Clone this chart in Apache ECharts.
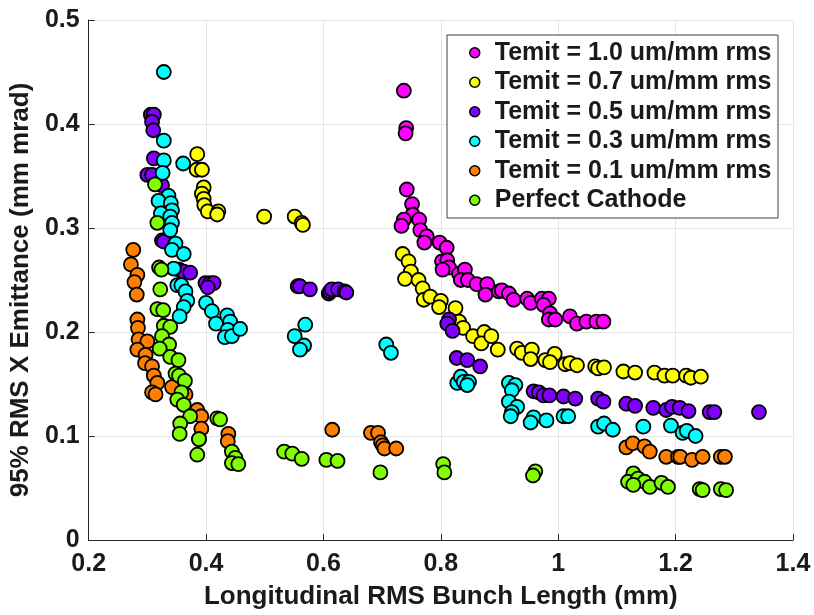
<!DOCTYPE html>
<html>
<head>
<meta charset="utf-8">
<script src="https://cdn.jsdelivr.net/npm/echarts@6/dist/echarts.min.js"></script>
<style>html,body{margin:0;padding:0;background:#fff;}#c{width:814px;height:615px;}</style>
</head>
<body>
<div id="c"></div>
<script>
var seriesNames = ['Temit = 1.0 um/mm rms','Temit = 0.7 um/mm rms','Temit = 0.5 um/mm rms','Temit = 0.3 um/mm rms','Temit = 0.1 um/mm rms','Perfect Cathode'];
var seriesColors = ['#ff00ff','#ffff00','#8000ff','#00ffff','#ff8000','#80ff00'];
var xTicks = [0.2,0.4,0.6,0.8,1.0,1.2,1.4];
var yTicks = [0,0.1,0.2,0.3,0.4,0.5];

var temit10 = [[0.737,0.432],[0.741,0.396],[0.740,0.391],[0.742,0.337],[0.751,0.323],[0.752,0.313],[0.737,0.308],[0.733,0.302],[0.763,0.308],[0.765,0.298],[0.776,0.292],[0.772,0.286],[0.798,0.286],[0.810,0.281],[0.802,0.268],[0.811,0.269],[0.814,0.262],[0.803,0.260],[0.831,0.256],[0.841,0.260],[0.834,0.250],[0.846,0.250],[0.861,0.246],[0.879,0.246],[0.876,0.236],[0.899,0.239],[0.904,0.240],[0.916,0.237],[0.924,0.231],[0.947,0.232],[0.953,0.228],[0.972,0.232],[0.984,0.232],[0.975,0.226],[0.986,0.218],[0.984,0.212],[0.995,0.212],[1.020,0.215],[1.032,0.208],[1.048,0.210],[1.065,0.210],[1.077,0.210]];

var temit07 = [[0.385,0.371],[0.384,0.356],[0.393,0.356],[0.396,0.339],[0.393,0.333],[0.396,0.328],[0.397,0.322],[0.403,0.316],[0.421,0.316],[0.419,0.313],[0.499,0.311],[0.551,0.311],[0.563,0.305],[0.565,0.303],[0.735,0.275],[0.745,0.268],[0.749,0.258],[0.739,0.251],[0.762,0.250],[0.769,0.242],[0.771,0.231],[0.782,0.234],[0.800,0.230],[0.797,0.224],[0.825,0.223],[0.831,0.210],[0.838,0.204],[0.855,0.196],[0.874,0.200],[0.869,0.189],[0.886,0.196],[0.897,0.183],[0.930,0.184],[0.938,0.180],[0.955,0.183],[0.953,0.174],[0.978,0.173],[0.994,0.179],[0.986,0.171],[1.012,0.169],[1.020,0.170],[1.032,0.168],[1.063,0.167],[1.068,0.165],[1.078,0.166],[1.111,0.162],[1.131,0.161],[1.164,0.161],[1.181,0.158],[1.195,0.158],[1.218,0.158],[1.226,0.156],[1.243,0.157]];

var temit05 = [[0.306,0.409],[0.311,0.409],[0.308,0.402],[0.310,0.394],[0.311,0.367],[0.300,0.351],[0.308,0.351],[0.325,0.341],[0.325,0.288],[0.328,0.287],[0.354,0.260],[0.362,0.258],[0.373,0.257],[0.399,0.247],[0.407,0.247],[0.413,0.247],[0.403,0.243],[0.556,0.244],[0.560,0.244],[0.577,0.241],[0.609,0.237],[0.611,0.239],[0.614,0.241],[0.625,0.241],[0.636,0.239],[0.639,0.238],[0.814,0.212],[0.811,0.208],[0.820,0.201],[0.827,0.175],[0.845,0.173],[0.867,0.167],[0.958,0.143],[0.967,0.142],[0.975,0.139],[0.985,0.139],[1.009,0.138],[1.029,0.136],[1.068,0.136],[1.077,0.133],[1.116,0.131],[1.131,0.129],[1.162,0.127],[1.184,0.125],[1.194,0.128],[1.207,0.127],[1.222,0.124],[1.258,0.123],[1.266,0.123],[1.342,0.123]];

var temit03 = [[0.328,0.450],[0.328,0.384],[0.328,0.365],[0.361,0.362],[0.326,0.353],[0.336,0.331],[0.319,0.326],[0.340,0.324],[0.342,0.317],[0.323,0.314],[0.339,0.311],[0.342,0.305],[0.339,0.298],[0.348,0.285],[0.342,0.279],[0.362,0.275],[0.345,0.261],[0.351,0.245],[0.358,0.245],[0.365,0.239],[0.368,0.230],[0.362,0.224],[0.355,0.215],[0.400,0.228],[0.410,0.220],[0.417,0.208],[0.436,0.216],[0.441,0.210],[0.437,0.202],[0.432,0.195],[0.444,0.196],[0.458,0.203],[0.569,0.207],[0.551,0.196],[0.567,0.187],[0.560,0.183],[0.707,0.188],[0.715,0.180],[0.828,0.151],[0.834,0.157],[0.839,0.152],[0.848,0.152],[0.845,0.149],[0.916,0.151],[0.927,0.149],[0.921,0.144],[0.916,0.133],[0.930,0.128],[0.921,0.123],[0.919,0.119],[0.958,0.118],[0.953,0.113],[0.980,0.115],[1.009,0.119],[1.017,0.119],[1.068,0.109],[1.078,0.112],[1.093,0.106],[1.145,0.109],[1.192,0.110],[1.212,0.103],[1.219,0.105],[1.234,0.100]];

var temit01 = [[0.276,0.279],[0.272,0.265],[0.283,0.255],[0.278,0.248],[0.282,0.236],[0.283,0.212],[0.284,0.204],[0.285,0.193],[0.300,0.191],[0.283,0.183],[0.297,0.178],[0.296,0.170],[0.308,0.167],[0.311,0.158],[0.317,0.151],[0.308,0.142],[0.314,0.140],[0.342,0.147],[0.365,0.140],[0.385,0.125],[0.392,0.119],[0.392,0.107],[0.388,0.097],[0.438,0.102],[0.437,0.095],[0.615,0.106],[0.681,0.103],[0.693,0.103],[0.698,0.094],[0.701,0.091],[0.704,0.088],[0.724,0.088],[1.116,0.089],[1.127,0.093],[1.147,0.090],[1.156,0.085],[1.184,0.080],[1.204,0.080],[1.208,0.080],[1.228,0.077],[1.246,0.080],[1.277,0.080],[1.284,0.080]];

var perfect = [[0.313,0.342],[0.317,0.305],[0.320,0.262],[0.324,0.260],[0.322,0.241],[0.317,0.222],[0.327,0.221],[0.328,0.206],[0.339,0.205],[0.325,0.196],[0.337,0.188],[0.321,0.184],[0.339,0.176],[0.353,0.173],[0.348,0.160],[0.354,0.158],[0.364,0.153],[0.358,0.142],[0.351,0.135],[0.362,0.130],[0.373,0.119],[0.356,0.112],[0.355,0.102],[0.388,0.097],[0.419,0.117],[0.424,0.116],[0.385,0.082],[0.444,0.085],[0.450,0.079],[0.444,0.074],[0.455,0.073],[0.533,0.085],[0.547,0.083],[0.563,0.078],[0.605,0.077],[0.624,0.076],[0.697,0.065],[0.804,0.073],[0.806,0.065],[0.961,0.066],[0.957,0.062],[1.128,0.064],[1.119,0.056],[1.136,0.059],[1.147,0.056],[1.156,0.051],[1.128,0.053],[1.176,0.055],[1.187,0.051],[1.241,0.049],[1.246,0.048],[1.277,0.049],[1.286,0.048]];

var allData = [temit10, temit07, temit05, temit03, temit01, perfect];
var FONT = '"Liberation Sans", Arial, Helvetica, sans-serif';
var TXT = '#1a1a1a';

var chart = echarts.init(document.getElementById('c'), null, {renderer: 'canvas'});
var series = allData.map(function (d, i) {
  return {
    name: seriesNames[i],
    type: 'scatter',
    data: d,
    symbol: 'circle',
    symbolSize: 14,
    itemStyle: {color: seriesColors[i], borderColor: '#000', borderWidth: 1.8, opacity: 1},
    emphasis: {disabled: true}
  };
});

chart.setOption({
  animation: false,
  backgroundColor: '#fff',
  grid: {left: 86, right: 21, top: 20, bottom: 75, containLabel: false},
  xAxis: {
    type: 'value', min: xTicks[0], max: xTicks[xTicks.length - 1], interval: 0.2,
    name: 'Longitudinal RMS Bunch Length (mm)', nameLocation: 'middle', nameGap: 44,
    nameTextStyle: {fontFamily: FONT, fontWeight: 'bold', fontSize: 26, color: TXT},
    axisLine: {show: true, onZero: false, lineStyle: {color: '#262626', width: 1}},
    axisTick: {show: true, inside: true, length: 6, lineStyle: {color: '#262626'}},
    axisLabel: {fontFamily: FONT, fontWeight: 'bold', fontSize: 25, color: TXT, margin: 12},
    splitLine: {show: true, lineStyle: {color: '#e6e6e6', width: 1}}
  },
  yAxis: {
    type: 'value', min: yTicks[0], max: yTicks[yTicks.length - 1], interval: 0.1,
    name: '95% RMS X Emittance (mm mrad)', nameLocation: 'middle', nameGap: 53,
    nameTextStyle: {fontFamily: FONT, fontWeight: 'bold', fontSize: 26, color: TXT, padding: [0, 20, 0, 0]},
    axisLine: {show: true, onZero: false, lineStyle: {color: '#262626', width: 1}},
    axisTick: {show: true, inside: true, length: 6, lineStyle: {color: '#262626'}},
    axisLabel: {fontFamily: FONT, fontWeight: 'bold', fontSize: 25, color: TXT, margin: 9},
    splitLine: {show: true, lineStyle: {color: '#e6e6e6', width: 1}}
  },
  graphic: [{
    type: 'rect', z: 3,
    shape: {x: 447, y: 35, width: 331, height: 183},
    style: {fill: '#fff', stroke: '#404040', lineWidth: 1}
  }],
  legend: {
    orient: 'vertical', left: 469, top: 39.7, padding: 0,
    itemWidth: 30, itemHeight: 10, itemGap: 3.5, icon: 'circle',
    itemStyle: {borderColor: '#000', borderWidth: 1.5},
    textStyle: {fontFamily: FONT, fontWeight: 'bold', fontSize: 25, color: TXT, lineHeight: 26},
    data: seriesNames, z: 5
  },
  series: series
});
</script>
</body>
</html>
